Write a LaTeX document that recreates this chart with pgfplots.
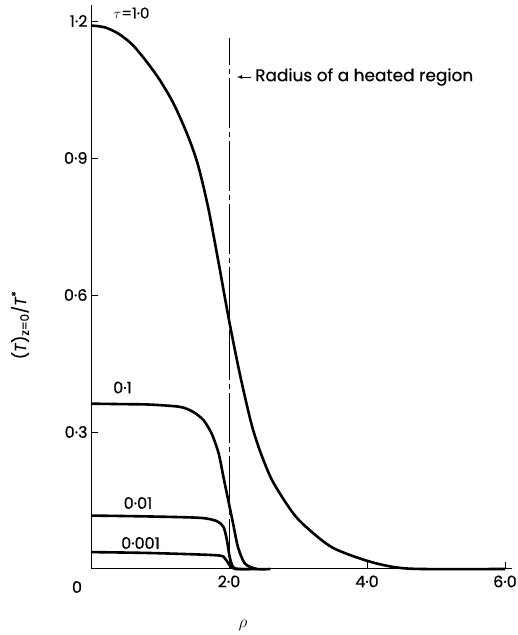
\documentclass[border=0pt]{standalone}
\usepackage{fontspec}
\setmainfont{Poppins}[FakeBold=0.5]
\usepackage{pgfplots}
\pgfplotsset{compat=1.18}
\begin{document}
\begin{tikzpicture}
\useasboundingbox (0,0) rectangle (518bp,635bp);
\begin{axis}[
  at={(91bp,66bp)}, anchor=south west,
  x=69bp, y=456.7bp,
  xmin=0, xmax=6.1, ymin=0, ymax=1.235,
  axis lines=left, axis line style={-, line width=1bp},
  xtick={2,4,6}, xticklabels={2·0,4·0,6·0},
  ytick={0.3,0.6,0.9,1.2}, yticklabels={0·3,0·6,0·9,1·2},
  tick align=inside, major tick length=7bp,
  tick style={black, line width=0.9bp},
  ticklabel style={font=\fontsize{16}{18}\selectfont},
  xticklabel style={yshift=-3bp},
  clip=false,
]
% tau = 1.0
\addplot[black, line width=2.6bp, smooth, tension=0.5] coordinates {
(0,1.190) (0.2,1.186) (0.4,1.172) (0.6,1.148) (0.8,1.112) (1.0,1.070)
(1.2,1.018) (1.4,0.950) (1.55,0.885) (1.7,0.790) (1.85,0.670) (2.0,0.545)
(2.16,0.425) (2.33,0.315) (2.47,0.250) (2.64,0.190) (2.93,0.122) (3.17,0.085)
(3.51,0.046) (4.0,0.018) (4.4,0.004) (4.8,0.0) (6.0,0.0)};
% tau = 0.1
\addplot[black, line width=2.6bp, smooth, tension=0.45] coordinates {
(0,0.362) (0.45,0.361) (0.855,0.360) (1.29,0.355) (1.48,0.344) (1.63,0.326)
(1.75,0.296) (1.85,0.253) (1.92,0.201) (1.99,0.150) (2.06,0.099) (2.13,0.048)
(2.23,0.012) (2.4,0.0) (2.6,0.0)};
% tau = 0.01
\addplot[black, line width=2.6bp, smooth, tension=0.45] coordinates {
(0,0.117) (0.855,0.115) (1.58,0.112) (1.82,0.105) (1.92,0.092) (1.97,0.063)
(2.01,0.026) (2.06,0.004) (2.15,0.0) (2.4,0.0)};
% tau = 0.001
\addplot[black, line width=2.6bp, smooth, tension=0.45] coordinates {
(0,0.037) (0.855,0.035) (1.82,0.030) (1.94,0.023) (2.01,0.008) (2.09,0.0) (2.3,0.0)};
% radius of heated region
\addplot[black, line width=0.8bp, dash pattern=on 50bp off 4bp on 5bp off 4bp] coordinates {(2.0,0) (2.0,1.162)};
\end{axis}
\node[font=\fontsize{16}{18}\selectfont] at (77bp,48bp) {0};
\node[font=\fontsize{15}{18}\selectfont] at (131.5bp,622bp) {$\tau$=1·0};
\node[font=\fontsize{16}{18}\selectfont] at (122.5bp,247.5bp) {0·1};
\node[font=\fontsize{16}{18}\selectfont] at (138bp,132bp) {0·01};
\node[font=\fontsize{16}{18}\selectfont] at (140.5bp,92bp) {0·001};
\draw[-{latex}, line width=0.8bp] (251bp,558bp) -- (237bp,558bp);
\node[font=\fontsize{17}{20}\selectfont, anchor=west, inner sep=0pt] at (255bp,558bp) {Radius of a heated region};
\node[rotate=90, font=\fontsize{16}{18}\selectfont] at (20bp,310bp) {(\textit{T})\textsubscript{\fontsize{12}{14}\selectfont z=0}/\textit{T}\textsuperscript{*}};
\node[font=\fontsize{17}{20}\selectfont] at (243bp,10bp) {$\rho$};
\end{tikzpicture}
\end{document}
